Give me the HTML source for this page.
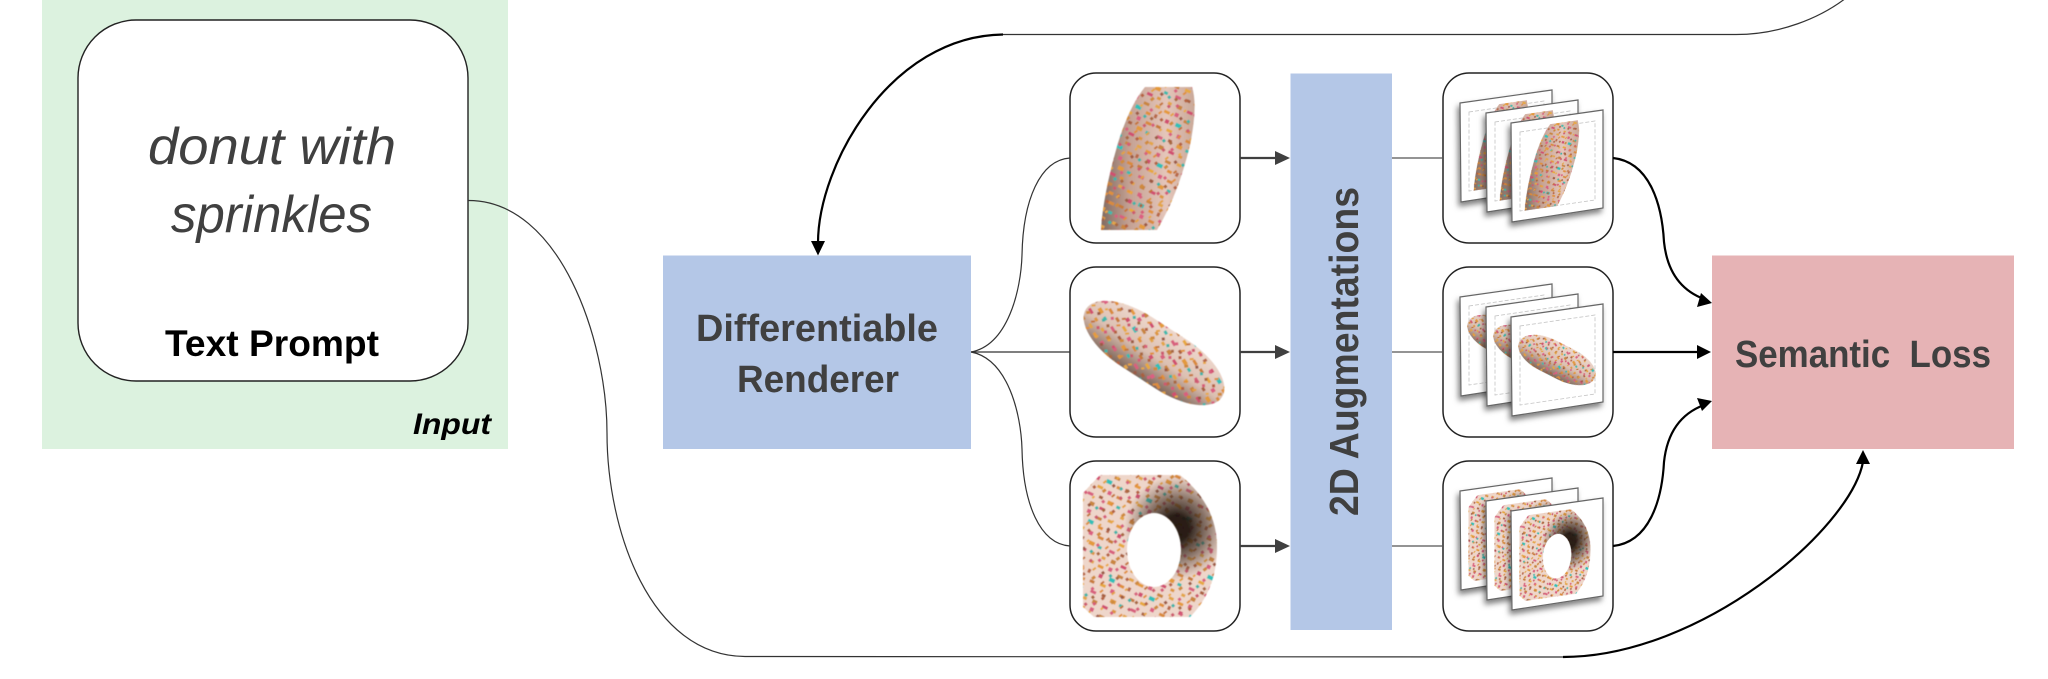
<!DOCTYPE html>
<html><head><meta charset="utf-8"><style>html,body{margin:0;padding:0;background:#fff}svg{display:block}</style></head><body>
<svg xmlns="http://www.w3.org/2000/svg" width="2048" height="679" viewBox="0 0 2048 679">
<defs>
<pattern id="sp" width="44" height="44" patternUnits="userSpaceOnUse" patternTransform="rotate(25)">
<g>
<rect x="2" y="3" width="6" height="3" fill="#e59a3c"/><rect x="13" y="1" width="4" height="4" fill="#d8607e"/><rect x="24" y="4" width="6" height="3" fill="#c9853f"/><rect x="36" y="2" width="5" height="3" fill="#e3a548"/>
<rect x="7" y="11" width="4" height="4" fill="#d04f70"/><rect x="18" y="10" width="6" height="4" fill="#33bfb8"/><rect x="30" y="12" width="5" height="3" fill="#e08f3a"/><rect x="39" y="11" width="3" height="4" fill="#b8694a"/>
<rect x="1" y="20" width="5" height="3" fill="#c77a3a"/><rect x="12" y="19" width="6" height="3" fill="#e7a840"/><rect x="24" y="20" width="4" height="4" fill="#dc5f82"/><rect x="34" y="21" width="6" height="3" fill="#d98a3e"/>
<rect x="6" y="29" width="6" height="3" fill="#d8607e"/><rect x="18" y="28" width="4" height="3" fill="#a9603f"/><rect x="28" y="29" width="6" height="4" fill="#e39a3c"/><rect x="38" y="30" width="4" height="3" fill="#40b9ad"/>
<rect x="2" y="38" width="4" height="3" fill="#e3a548"/><rect x="12" y="37" width="5" height="4" fill="#c9853f"/><rect x="23" y="38" width="6" height="3" fill="#d04f70"/><rect x="34" y="38" width="4" height="3" fill="#dd9640"/>
</g>
</pattern>
<pattern id="sp2" width="31" height="31" patternUnits="userSpaceOnUse" patternTransform="rotate(-38)">
<g>
<rect x="3" y="2" width="3" height="3" fill="#b5623f"/><rect x="14" y="5" width="4" height="2" fill="#e4a13f"/><rect x="24" y="1" width="3" height="3" fill="#d65b78"/>
<rect x="8" y="11" width="4" height="3" fill="#cf8a3c"/><rect x="19" y="13" width="3" height="3" fill="#9c5a45"/><rect x="27" y="10" width="3" height="2" fill="#e9a845"/>
<rect x="1" y="19" width="3" height="3" fill="#d8607e"/><rect x="12" y="21" width="4" height="2" fill="#c47338"/><rect x="23" y="20" width="3" height="3" fill="#3fb3a8"/>
<rect x="6" y="27" width="4" height="2" fill="#e08f3a"/><rect x="17" y="27" width="3" height="3" fill="#cc5a6e"/><rect x="27" y="26" width="3" height="3" fill="#a9683f"/>
</g>
</pattern>
<linearGradient id="g1" x1="0" y1="0" x2="1" y2="0"><stop offset="0" stop-color="#7f6a60"/><stop offset=".3" stop-color="#c4a193"/><stop offset=".7" stop-color="#e5c6ba"/><stop offset="1" stop-color="#c9a898"/></linearGradient>
<linearGradient id="g2" x1="0" y1="0" x2="0" y2="1"><stop offset="0" stop-color="#eed8cd"/><stop offset=".55" stop-color="#dcc0b2"/><stop offset="1" stop-color="#7f675b"/></linearGradient>
<radialGradient id="g3" gradientUnits="userSpaceOnUse" cx="1176" cy="528" r="52"><stop offset=".25" stop-color="#20160f" stop-opacity=".95"/><stop offset=".6" stop-color="#4a372c" stop-opacity=".6"/><stop offset="1" stop-color="#6a5246" stop-opacity="0"/></radialGradient>
<filter id="sh" x="-20%" y="-20%" width="140%" height="140%"><feDropShadow dx="-2" dy="4" stdDeviation="3" flood-color="#000" flood-opacity=".5"/></filter>
<filter id="soft" x="-5%" y="-5%" width="110%" height="110%"><feGaussianBlur stdDeviation=".5"/></filter>
<path id="p1" d="M1145 87L1192 87Q1198 105 1190 145Q1178 195 1157 230L1101 230Q1103 195 1118 143Q1130 105 1145 87Z"/>
<path id="p3" fill-rule="evenodd" d="M1100 475L1180 475Q1217 505 1217 547Q1217 590 1190 617L1094 617L1083 607L1083 493ZM1154 513A27 37 0 1 0 1154 587A27 37 0 1 0 1154 513Z"/>
<g id="d1" filter="url(#soft)"><use href="#p1" fill="url(#g1)"/><use href="#p1" fill="url(#sp)"/><use href="#p1" fill="url(#sp2)"/></g>
<g id="d2" filter="url(#soft)"><g transform="rotate(33 1154 353)"><rect x="1073" y="324" width="162" height="58" rx="60" ry="29" fill="url(#g2)"/><rect x="1073" y="324" width="162" height="58" rx="60" ry="29" fill="url(#sp)"/><rect x="1073" y="324" width="162" height="58" rx="60" ry="29" fill="url(#sp2)"/></g></g>
<g id="d3" filter="url(#soft)"><use href="#p3" fill="#eed6ca"/><use href="#p3" fill="url(#sp)"/><use href="#p3" fill="url(#sp2)"/><use href="#p3" fill="url(#g3)"/></g>
<polygon id="card" points="0,13 92,0 92,98 1,112" fill="#fff" stroke="#666" stroke-width="1.2" filter="url(#sh)"/>
<polygon id="inner" points="9,22 84,11 84,90 9,101" fill="none" stroke="#c4c4c4" stroke-width=".8" stroke-dasharray="4 2"/>
</defs>

<rect x="42" y="0" width="466" height="449" fill="#dcf2df"/>
<rect x="78" y="20" width="390" height="361" rx="58" ry="58" fill="#fff" stroke="#222" stroke-width="1.4"/>
<g font-family="'Liberation Sans',sans-serif">
<text x="148" y="164" font-size="52" font-style="italic" fill="#404040" textLength="248" lengthAdjust="spacingAndGlyphs">donut with</text>
<text x="171" y="232" font-size="52" font-style="italic" fill="#404040" textLength="201" lengthAdjust="spacingAndGlyphs">sprinkles</text>
<text x="165" y="356" font-size="37" font-weight="bold" fill="#000" textLength="214" lengthAdjust="spacingAndGlyphs">Text Prompt</text>
<text x="413" y="434" font-size="30" font-weight="bold" font-style="italic" fill="#000" textLength="78" lengthAdjust="spacingAndGlyphs">Input</text>
</g>

<rect x="663" y="255.5" width="308" height="193.5" fill="#b4c7e7"/>
<g font-family="'Liberation Sans',sans-serif" font-weight="bold" fill="#404040" font-size="38">
<text x="696" y="341" textLength="242" lengthAdjust="spacingAndGlyphs">Differentiable</text>
<text x="737" y="392" textLength="162" lengthAdjust="spacingAndGlyphs">Renderer</text>
</g>

<rect x="1290.5" y="73.5" width="101.5" height="556.5" fill="#b4c7e7"/>
<text transform="translate(1358 516) rotate(-90)" font-family="'Liberation Sans',sans-serif" font-weight="bold" font-size="41" fill="#404040" textLength="329" lengthAdjust="spacingAndGlyphs">2D Augmentations</text>

<rect x="1712" y="255.5" width="302" height="193.5" fill="#e6b3b5"/>
<text x="1735" y="367" font-family="'Liberation Sans',sans-serif" font-weight="bold" font-size="38" fill="#404040" textLength="256" lengthAdjust="spacingAndGlyphs" xml:space="preserve">Semantic  Loss</text>

<g fill="#fff" stroke="#222" stroke-width="1.5">
<rect x="1070" y="73" width="170" height="170" rx="26"/>
<rect x="1070" y="267" width="170" height="170" rx="26"/>
<rect x="1070" y="461" width="170" height="170" rx="26"/>
<rect x="1443" y="73" width="170" height="170" rx="26"/>
<rect x="1443" y="267" width="170" height="170" rx="26"/>
<rect x="1443" y="461" width="170" height="170" rx="26"/>
</g>

<use href="#d1"/><use href="#d2"/><use href="#d3"/>

<!-- stacked cards -->
<g>
<g transform="translate(1460 90)"><use href="#card"/><use href="#inner"/></g>
<g transform="translate(-51 -20)"><g transform="translate(1552 165) skewY(-8) scale(.58) translate(-1148 -158)"><use href="#d1"/></g></g>
<g transform="translate(1486 100)"><use href="#card"/><use href="#inner"/></g>
<g transform="translate(-25 -10)"><g transform="translate(1552 165) skewY(-8) scale(.58) translate(-1148 -158)"><use href="#d1"/></g></g>
<g transform="translate(1511 110)"><use href="#card"/><use href="#inner"/></g>
<g transform="translate(1552 165) skewY(-8) scale(.58) translate(-1148 -158)"><use href="#d1"/></g>
</g>
<g>
<g transform="translate(1460 284)"><use href="#card"/><use href="#inner"/></g>
<g transform="translate(-51 -20)"><g transform="translate(1557 360) skewY(-8) scale(.55) translate(-1154 -353)"><use href="#d2"/></g></g>
<g transform="translate(1486 294)"><use href="#card"/><use href="#inner"/></g>
<g transform="translate(-25 -10)"><g transform="translate(1557 360) skewY(-8) scale(.55) translate(-1154 -353)"><use href="#d2"/></g></g>
<g transform="translate(1511 304)"><use href="#card"/><use href="#inner"/></g>
<g transform="translate(1557 360) skewY(-8) scale(.55) translate(-1154 -353)"><use href="#d2"/></g>
</g>
<g>
<g transform="translate(1460 478)"><use href="#card"/></g>
<g transform="translate(-51 -20)"><g transform="translate(1555 554) skewY(-8) scale(.53 .6) translate(-1150 -546)"><use href="#d3"/></g></g>
<g transform="translate(1486 488)"><use href="#card"/></g>
<g transform="translate(-25 -10)"><g transform="translate(1555 554) skewY(-8) scale(.53 .6) translate(-1150 -546)"><use href="#d3"/></g></g>
<g transform="translate(1511 498)"><use href="#card"/></g>
<g transform="translate(1555 554) skewY(-8) scale(.53 .6) translate(-1150 -546)"><use href="#d3"/></g>
</g>

<!-- thin connectors -->
<g fill="none" stroke="#333" stroke-width="1.2">
<path d="M468 200.5C560 200 607 340 607 433C607 530 650 656 745 656.5L1563 657"/>
<path d="M1003 34.5H1736C1780 34.5 1820 18 1846 -2"/>
<path d="M971 352C1008 345 1021 290 1022 255C1023 200 1040 160 1070 158"/>
<path d="M971 352C1008 359 1021 414 1022 449C1023 504 1040 544 1070 546"/>
<path d="M971 352H1070"/>
<path d="M1392 158H1443M1392 352H1443M1392 546H1443" stroke="#555"/>
</g>
<!-- box to bar arrows -->
<g stroke="#404040" stroke-width="2.2" fill="none"><path d="M1240 158H1278M1240 352H1278M1240 546H1278"/></g>
<g fill="#404040"><polygon points="1290,158 1275,151 1275,165"/><polygon points="1290,352 1275,345 1275,359"/><polygon points="1290,546 1275,539 1275,553"/></g>

<!-- bold connectors -->
<g fill="none" stroke="#000" stroke-width="2.2">
<path d="M1003 34.5C890 36 818 165 818 243"/>
<path d="M1563 657C1700 657 1850 530 1863 462"/>
<path d="M1613 158C1650 162 1662 205 1664 242C1667 270 1680 290 1704 299"/>
<path d="M1613 546C1650 542 1662 499 1664 462C1667 434 1680 414 1704 405"/>
<path d="M1613 352H1700"/>
</g>
<g fill="#000">
<polygon points="818,255.5 811,241 825,241"/>
<polygon points="1863,450 1856,464 1870,464"/>
<polygon points="1712,303 1701,293 1697,307"/>
<polygon points="1711,352 1697,345 1697,359"/>
<polygon points="1712,401 1697,398 1702,411"/>
</g>
</svg>
</body></html>
